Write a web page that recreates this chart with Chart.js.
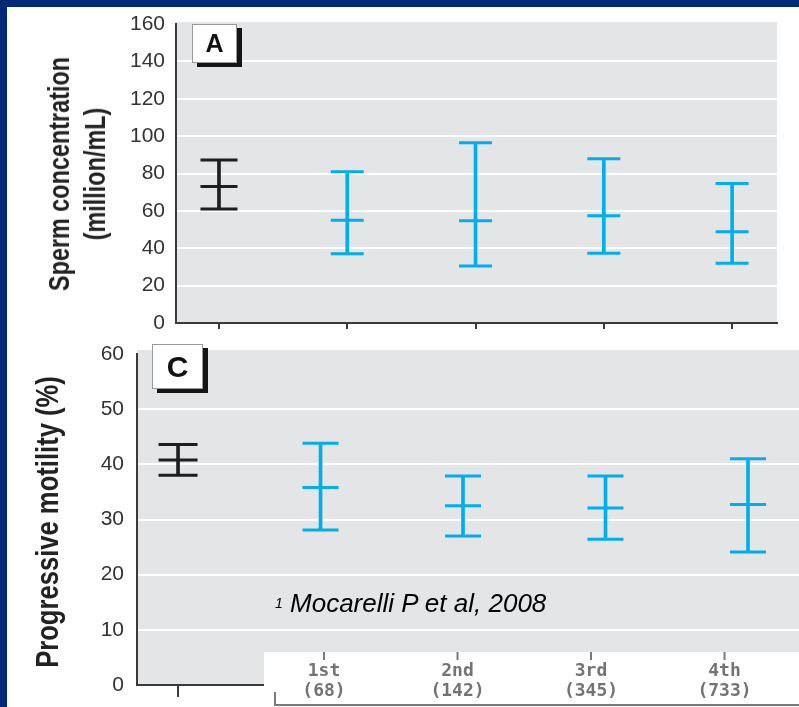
<!DOCTYPE html>
<html>
<head>
<meta charset="utf-8">
<script src="https://cdn.jsdelivr.net/npm/chart.js@4.4.1/dist/chart.umd.min.js"></script>
<style>
  body { margin: 0; background: #fff; width: 799px; height: 707px; overflow: hidden; position: relative; font-family: "Liberation Sans", Arial, sans-serif; }
  .wrap { position: absolute; left: 0; }
  #wrapA { top: 0; width: 799px; height: 340px; }
  #wrapC { top: 337px; width: 799px; height: 370px; }
  .navy { position: absolute; background: #002878; }
  #navyTop { left: 0; top: 0; width: 799px; height: 7px; }
  #navyLeft { left: 0; top: 0; width: 7px; height: 707px; }
  .tag { position: absolute; background: #fff; border: 1px solid #999; box-shadow: 5px 4px 0 #151515; font-weight: bold; text-align: center; color: #111; box-sizing: border-box; }
  #tagA { left: 192px; top: 24px; width: 45px; height: 39px; font-size: 25px; line-height: 37px; }
  #tagC { left: 152px; top: 344px; width: 51px; height: 45px; font-size: 30px; line-height: 43px; }
  #note { position: absolute; left: 275px; top: 590px; font-size: 26px; line-height: 26px; font-style: italic; color: #000; white-space: nowrap; }
  #note sup { font-size: 14px; vertical-align: top; position: relative; top: 0px; }
  .ytitle { position: absolute; font-weight: bold; color: #222; text-align: center; white-space: nowrap; }
  #titleA { width: 320px; height: 72px; left: 77px; top: 173.5px; margin-left: -160px; margin-top: -36px; font-size: 30px; line-height: 36px; transform: rotate(-90deg) scaleX(0.78); }
  #titleC { width: 380px; height: 38px; left: 47px; top: 522px; margin-left: -190px; margin-top: -19px; font-size: 32px; line-height: 38px; transform: rotate(-90deg) scaleX(0.8); }
</style>
</head>
<body>
<div class="wrap" id="wrapA"><canvas id="chartA" width="799" height="340"></canvas></div>
<div class="wrap" id="wrapC"><canvas id="chartC" width="799" height="370"></canvas></div>
<div class="ytitle" id="titleA">Sperm concentration<br>(million/mL)</div>
<div class="ytitle" id="titleC">Progressive motility (%)</div>
<div class="tag" id="tagA">A</div>
<div class="tag" id="tagC">C</div>
<div id="note"><sup>1</sup> Mocarelli P et al, 2008</div>
<div class="navy" id="navyTop"></div>
<div class="navy" id="navyLeft"></div>

<script>
// data
var groups = ["Reference", "1st", "2nd", "3rd", "4th"];
var stripLabels = [["1st", "(68)"], ["2nd", "(142)"], ["3rd", "(345)"], ["4th", "(733)"]];

var concMean = [73, 55, 54.7, 57.4, 48.8];
var concLow  = [61, 37, 30.5, 37.3, 32];
var concHigh = [87.2, 81, 96.4, 87.9, 74.7];
var concTicks = [0, 20, 40, 60, 80, 100, 120, 140, 160];

var motMean = [40.8, 35.8, 32.5, 32.1, 32.7];
var motLow  = [38, 28.1, 27, 26.4, 24.1];
var motHigh = [43.6, 43.8, 37.9, 37.9, 41];
var motTicks = [0, 10, 20, 30, 40, 50, 60];

var BLACK = "#1e1e1e";
var BLUE = "#00adee";
var AXIS = "#3a3a3a";
var PANEL = "#e4e5e7";

function colorAt(c) { return c.dataIndex === 0 ? BLACK : BLUE; }

// gray plot background
var panelPlugin = {
  id: "panel",
  beforeDraw: function(chart, args, opts) {
    var a = chart.chartArea, ctx = chart.ctx;
    ctx.save();
    ctx.fillStyle = PANEL;
    ctx.fillRect(a.left, a.top - opts.ext, a.right - a.left, a.bottom - a.top + opts.ext);
    ctx.restore();
  }
};

// white strip with group labels pasted at the bottom of panel C
var stripPlugin = {
  id: "strip",
  afterDraw: function(chart) {
    var ctx = chart.ctx, x2 = chart.scales.x2;
    var top = 315, left = 264;
    ctx.save();
    ctx.fillStyle = "#fff";
    ctx.fillRect(left, top, chart.width - left, chart.height - top);
    ctx.strokeStyle = "#7a7a7a";
    ctx.lineWidth = 2;
    ctx.beginPath();
    ctx.moveTo(275, 355);
    ctx.lineTo(275, 368);
    ctx.lineTo(chart.width, 368);
    stripLabels.forEach(function(l, i) {
      var px = x2.getPixelForValue(i + 1);
      ctx.moveTo(px, top);
      ctx.lineTo(px, top + 8);
    });
    ctx.stroke();
    ctx.fillStyle = "#737373";
    ctx.font = 'bold 18px "DejaVu Sans Mono", monospace';
    ctx.textAlign = "center";
    ctx.textBaseline = "middle";
    stripLabels.forEach(function(l, i) {
      var px = x2.getPixelForValue(i + 1);
      ctx.fillText(l[0], px, 334);
      ctx.fillText(l[1], px, 354);
    });
    ctx.restore();
  }
};

function errorChart(id, cfg) {
  var pos = groups.map(function(g, i) { return i; });
  var stems = pos.map(function(i) { return { x: i, y: [cfg.low[i], cfg.high[i]] }; });
  function pts(arr) { return pos.map(function(i) { return { x: i, y: arr[i] }; }); }
  function cap(arr) {
    return {
      type: "scatter",
      data: pts(arr),
      pointStyle: "line",
      pointBorderColor: colorAt,
      borderColor: BLUE,
      pointBorderWidth: 3,
      pointRadius: function(c) { return c.dataIndex === 0 ? cfg.capBlack : cfg.capBlue; }
    };
  }

  var scales = {
    x: {
      type: "linear", min: cfg.xMin, max: cfg.xMax, offset: false,
      ticks: { display: false },
      afterBuildTicks: function(s) { s.ticks = pos.map(function(v) { return { value: v }; }); },
      afterFit: function(s) { s.height = cfg.xHeight; },
      grid: { offset: false, drawOnChartArea: false, drawTicks: true, tickLength: cfg.tickLen, color: AXIS, lineWidth: 2 },
      border: { display: true, color: AXIS, width: 2 }
    },
    y: {
      min: 0, max: cfg.yMax,
      afterBuildTicks: function(s) { s.ticks = cfg.yTicks.map(function(v) { return { value: v }; }); },
      // fixed width, and no extra room asked for the end labels
      afterFit: function(s) { s.width = cfg.yWidth; s.paddingTop = 0; s.paddingBottom = 0; },
      ticks: { color: "#333", font: { family: '"Liberation Sans", Arial, sans-serif', size: 21 }, padding: cfg.tickPad },
      grid: {
        color: function(c) { var v = c.tick.value; return (v === 0 || v === cfg.yMax) ? "rgba(0,0,0,0)" : "#fff"; },
        lineWidth: 2, drawTicks: false
      },
      border: { color: AXIS, width: 2 }
    }
  };
  if (cfg.x2) scales.x2 = cfg.x2;

  return new Chart(document.getElementById(id), {
    type: "bar",
    data: {
      datasets: [
        { type: "bar", data: stems, backgroundColor: colorAt, barThickness: 3, borderWidth: 0 },
        cap(cfg.high),
        cap(cfg.low),
        cap(cfg.mean)
      ]
    },
    options: {
      responsive: false,
      animation: false,
      events: [],
      layout: { padding: cfg.pad, autoPadding: false },
      plugins: { legend: { display: false }, tooltip: { enabled: false }, panel: { ext: cfg.ext } },
      scales: scales
    },
    plugins: cfg.plugins
  });
}

errorChart("chartA", {
  low: concLow, high: concHigh, mean: concMean,
  yMax: 160, yTicks: concTicks,
  xMin: -0.335, xMax: 4.35,
  pad: { left: 0, top: 24, right: 22, bottom: 0 },
  xHeight: 17, tickLen: 6, yWidth: 176, tickPad: 11,
  capBlack: 18.5, capBlue: 16.5, ext: 2,
  plugins: [panelPlugin]
});

errorChart("chartC", {
  low: motLow, high: motHigh, mean: motMean,
  yMax: 60, yTicks: motTicks,
  xMin: -0.288, xMax: 4.358,
  x2: { type: "linear", display: false, min: -0.153, max: 4.31 },
  pad: { left: 0, top: 17, right: 0, bottom: 0 },
  xHeight: 22, tickLen: 12, yWidth: 137, tickPad: 13,
  capBlack: 19.5, capBlue: 18, ext: 4,
  plugins: [panelPlugin, stripPlugin]
});
</script>
</body>
</html>
